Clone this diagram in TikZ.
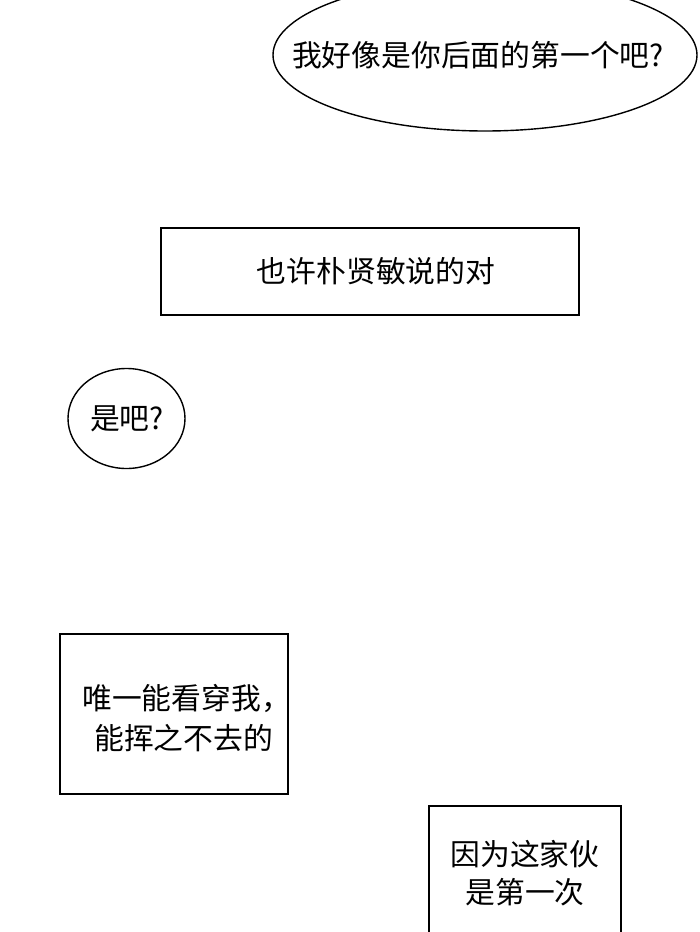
\documentclass[tikz,border=0pt]{standalone}
\usepackage{fontspec}
\newfontfamily\cjk{Noto Sans CJK SC}
\usetikzlibrary{shapes.geometric}
\begin{document}
\begin{tikzpicture}[x=1pt,y=-1pt,
  box/.style={draw=black, line width=1.4pt, rectangle, inner sep=0pt},
  bubble/.style={draw=black, line width=1.4pt, ellipse, inner sep=0pt},
  txt/.style={font=\cjk\fontsize{29.8}{40}\selectfont, inner sep=0pt, text=black}]
\useasboundingbox (0,0) rectangle (700,932);
\clip (0,0) rectangle (700,932);
\fill[white] (0,0) rectangle (700,932);
% top ellipse
\node[bubble, minimum width=424pt, minimum height=152pt] (e1) at (485,55) {};
\node[txt] (t1) at (478,55) {我好像是你后面的第一个吧?};
% rectangle 1
\node[box, minimum width=418pt, minimum height=87pt] (r1) at (370,271.5) {};
\node[txt] (t2) at (376,271) {也许朴贤敏说的对};
% small ellipse
\node[bubble, minimum width=117pt, minimum height=100pt] (e2) at (126.5,418.5) {};
\node[txt] (t3) at (127,419) {是吧?};
% rectangle 2
\node[box, minimum width=228pt, minimum height=160pt] (r2) at (174,714) {};
\node[txt, anchor=west] (t4) at (82,698) {唯一能看穿我，};
\node[txt, anchor=west] (t5) at (94,738) {能挥之不去的};
% rectangle 3 (cut at bottom)
\node[box, minimum width=192pt, minimum height=160pt] (r3) at (525,886) {};
\node[txt] (t6) at (525,854) {因为这家伙};
\node[txt] (t7) at (525,892) {是第一次};
\end{tikzpicture}
\end{document}
